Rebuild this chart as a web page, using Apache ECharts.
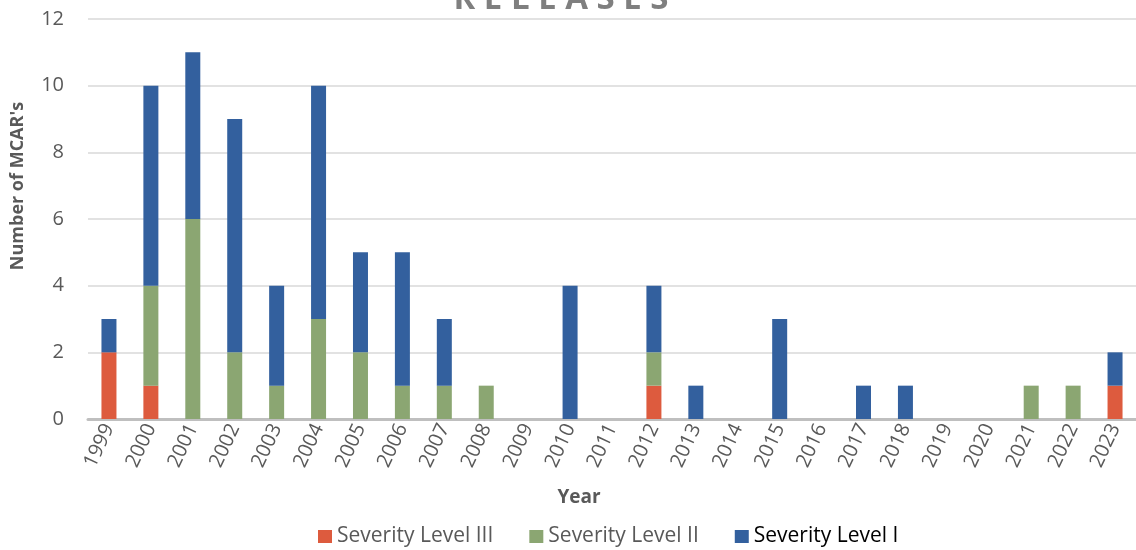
<!DOCTYPE html>
<html>
<head>
<meta charset="utf-8">
<script src="https://cdn.jsdelivr.net/npm/echarts@6/dist/echarts.min.js"></script>
<style>
  html, body { margin: 0; padding: 0; background: #fff; }
  #main { width: 1136px; height: 550px; }
</style>
</head>
<body>
<div id="main"></div>
<script>
var years = ["1999", "2000", "2001", "2002", "2003", "2004", "2005", "2006", "2007", "2008", "2009", "2010", "2011", "2012", "2013", "2014", "2015", "2016", "2017", "2018", "2019", "2020", "2021", "2022", "2023"];
var level3 = [2, 1, 0, 0, 0, 0, 0, 0, 0, 0, 0, 0, 0, 1, 0, 0, 0, 0, 0, 0, 0, 0, 0, 0, 1];
var level2 = [0, 3, 6, 2, 1, 3, 2, 1, 1, 1, 0, 0, 0, 1, 0, 0, 0, 0, 0, 0, 0, 0, 1, 1, 0];
var level1 = [1, 6, 5, 7, 3, 7, 3, 4, 2, 0, 0, 4, 0, 2, 1, 0, 3, 0, 1, 1, 0, 0, 0, 0, 1];
var yTicks = [0, 2, 4, 6, 8, 10, 12];

var font = "'Open Sans', 'Liberation Sans', sans-serif";

// 基于准备好的dom，初始化echarts实例
var myChart = echarts.init(document.getElementById('main'));

function bar(name, data, color) {
    return {
        name: name,
        type: 'bar',
        stack: 'total',
        barWidth: 15,
        data: data,
        itemStyle: { color: color }
    };
}

myChart.setOption({
    animation: false,
    textStyle: { fontFamily: font },
    graphic: [{
        type: 'text',
        x: 561,
        y: 0,
        style: {
            text: 'R E L E A S E S',
            align: 'center',
            verticalAlign: 'middle',
            fontFamily: font,
            fontSize: 33,
            fontWeight: 'bold',
            fill: '#7f7f7f'
        }
    }, {
        // y axis title
        type: 'text',
        x: 18,
        y: 186,
        rotation: Math.PI / 2,
        style: {
            text: "Number of MCAR's",
            align: 'center',
            verticalAlign: 'middle',
            fontFamily: font,
            fontSize: 18,
            fontWeight: 'bold',
            fill: '#595959'
        }
    }, {
        // x axis title
        type: 'text',
        x: 579,
        y: 498,
        style: {
            text: 'Year',
            align: 'center',
            verticalAlign: 'middle',
            fontFamily: font,
            fontSize: 19,
            fontWeight: 'bold',
            fill: '#595959'
        }
    }],
    legend: {
        top: 521,
        left: 313,
        itemWidth: 14,
        itemHeight: 13,
        itemGap: 36,
        icon: 'rect',
        textStyle: { fontSize: 21, color: '#595959', fontFamily: font },
        data: [
            { name: 'Severity Level III' },
            { name: 'Severity Level II' },
            { name: 'Severity Level I', textStyle: { color: '#000' } }
        ]
    },
    grid: { left: 88, right: -2, top: 19, bottom: 131, containLabel: false },
    xAxis: {
        type: 'category',
        data: years,
        axisTick: { show: false },
        axisLine: { lineStyle: { color: '#bfbfbf', width: 3 } },
        axisLabel: { rotate: 65, fontSize: 20, color: '#595959', margin: 6, interval: 0, fontFamily: font }
    },
    yAxis: {
        type: 'value',
        min: yTicks[0],
        max: yTicks[yTicks.length - 1],
        interval: 2,
        axisLine: { show: false },
        axisTick: { show: false },
        axisLabel: { fontSize: 20, color: '#595959', margin: 24, fontFamily: font },
        splitLine: { lineStyle: { color: '#d9d9d9', width: 1.5 } }
    },
    series: [
        bar('Severity Level III', level3, '#dd5b3e'),
        bar('Severity Level II', level2, '#8ba672'),
        bar('Severity Level I', level1, '#33609e')
    ]
});
</script>
</body>
</html>
